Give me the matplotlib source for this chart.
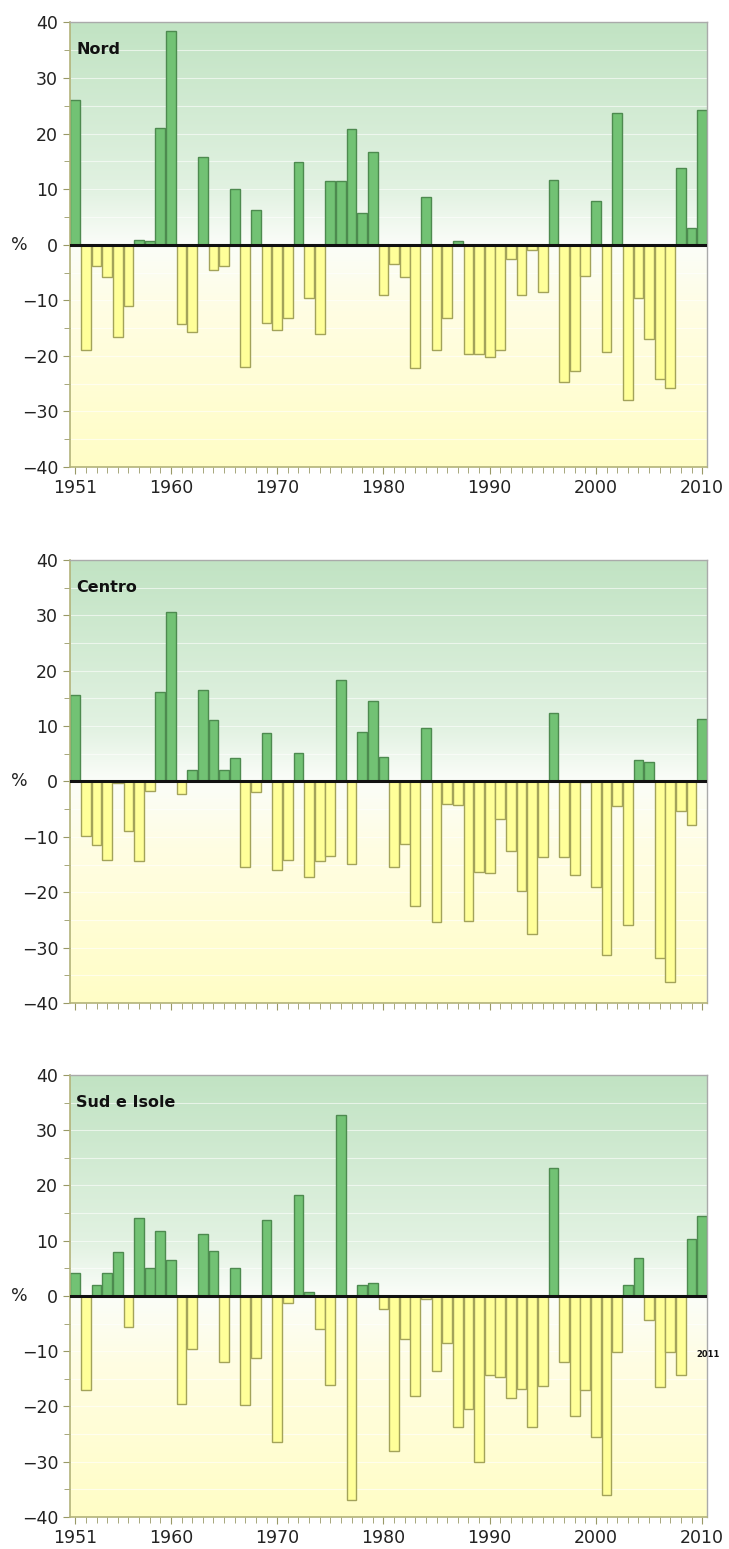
import matplotlib
matplotlib.use("Agg")
import matplotlib.pyplot as plt
import numpy as np
from matplotlib.colors import LinearSegmentedColormap
from matplotlib.ticker import MultipleLocator

years = list(range(1951, 2011))

nord = [26.0, -18.9, -3.8, -5.8, -16.6, -11.0, 0.8, 0.6, 21.0, 38.5,
        -14.2, -15.7, 15.8, -4.6, -3.8, 10.1, -22.0, 6.2, -14.0, -15.4,
        -13.1, 14.8, -9.6, -16.1, 11.4, 11.4, 20.9, 5.7, 16.6, -9.0,
        -3.4, -5.8, -22.2, 8.6, -18.9, -13.2, 0.6, -19.6, -19.6, -20.2,
        -19.0, -2.5, -9.1, -0.9, -8.5, 11.6, -24.7, -22.8, -5.7, 7.9,
        -19.3, 23.7, -27.9, -9.6, -17.0, -24.1, -25.8, 13.8, 3.1, 24.2]

centro = [15.7, -9.9, -11.4, -14.1, -0.2, -9.0, -14.4, -1.8, 16.1, 30.6,
          -2.2, 2.1, 16.5, 11.1, 2.1, 4.3, -15.4, -1.9, 8.7, -15.9,
          -14.1, 5.1, -17.3, -14.3, -13.4, 18.3, -14.9, 8.9, 14.6, 4.4,
          -15.5, -11.3, -22.5, 9.6, -25.3, -4.0, -4.2, -25.2, -16.4, -16.6,
          -6.8, -12.5, -19.7, -27.5, -13.6, 12.4, -13.6, -16.9, -0.1, -19.0,
          -31.4, -4.5, -25.9, 3.9, 3.5, -31.8, -36.2, -5.4, -7.8, 11.3]

sud = [4.2, -17.0, 2.0, 4.2, 8.0, -5.6, 14.2, 5.1, 11.8, 6.6,
       -19.6, -9.6, 11.3, 8.2, -11.9, 5.0, -19.7, -11.3, 13.8, -26.4,
       -1.3, 18.2, 0.8, -6.0, -16.1, 32.7, -36.9, 1.9, 2.3, -2.3,
       -28.0, -7.8, -18.1, -0.5, -13.6, -8.5, -23.7, -20.5, -30.0, -14.3,
       -14.6, -18.5, -16.9, -23.8, -16.3, 23.1, -11.9, -21.7, -17.0, -25.6,
       -36.0, -10.1, 1.9, 6.9, -4.4, -16.4, -10.1, -14.3, 10.3, 14.5]

regions = ["Nord", "Centro", "Sud e Isole"]
series = [nord, centro, sud]
year_labels = [1951, 1960, 1970, 1980, 1990, 2000, 2010]

green_fill, green_edge = "#72c274", "#4d8a4f"
yellow_fill, yellow_edge = "#ffff99", "#a3a35a"

# background: pale yellow at -40, white around 0, soft green at +40
bg_cmap = LinearSegmentedColormap.from_list(
    "bg", [(0.0, "#fffdc6"), (0.35, "#fffee3"), (0.5, "#fbfdf9"),
           (0.62, "#e2f2e2"), (1.0, "#c1e3c3")])

fig = plt.figure(figsize=(7.29, 15.49), dpi=100)
positions = [[0.096, 0.6985, 0.8745, 0.287],
             [0.096, 0.3525, 0.8745, 0.286],
             [0.096, 0.0207, 0.8745, 0.2853]]

for i, (pos, name, vals) in enumerate(zip(positions, regions, series)):
    ax = fig.add_axes(pos)
    grad = np.linspace(0, 1, 256).reshape(-1, 1)
    ax.imshow(grad, cmap=bg_cmap, origin="lower", aspect="auto",
              extent=[1950.5, 2010.5, -40, 40], zorder=0)
    for y in np.arange(-35, 40, 5):
        ax.axhline(y, color="white", lw=0.8, alpha=0.6, zorder=1)

    vals = np.array(vals)
    colors = [green_fill if v >= 0 else yellow_fill for v in vals]
    edges = [green_edge if v >= 0 else yellow_edge for v in vals]
    ax.bar(years, vals, width=0.92, color=colors, edgecolor=edges,
           linewidth=1.0, zorder=2)
    ax.axhline(0, color="#111111", lw=2.2, zorder=3)

    ax.set_xlim(1950.5, 2010.5)
    ax.set_ylim(-40, 40)
    ax.yaxis.set_major_locator(MultipleLocator(10))
    ax.yaxis.set_minor_locator(MultipleLocator(5))
    ax.set_xticks(years, minor=True)
    ax.set_xticks(year_labels)
    if i == 1:
        ax.set_xticklabels([])
    ax.tick_params(axis="both", which="major", labelsize=12.5,
                   labelcolor="#222222", color="#999966", length=5)
    ax.tick_params(axis="both", which="minor", color="#999966", length=4)
    for side in ["left", "bottom"]:
        ax.spines[side].set_color("#b3b37a")
        ax.spines[side].set_linewidth(1.2)
    for side in ["top", "right"]:
        ax.spines[side].set_color("#aaaaaa")
        ax.spines[side].set_linewidth(1.0)

    ax.text(0.01, 0.955, name, transform=ax.transAxes, fontsize=11.5,
            fontweight="bold", va="top", ha="left", color="#111111", zorder=4)
    ax.text(-0.08, 0, "%", transform=ax.get_yaxis_transform(),
            fontsize=12.5, va="center", ha="center", color="#222222")

    if i == 2:
        ax.text(2010.6, -10.6, "2011", fontsize=6, fontweight="bold",
                ha="center", va="center", color="#111111", zorder=4,
                clip_on=False)

fig.savefig("out.png", dpi=100)
